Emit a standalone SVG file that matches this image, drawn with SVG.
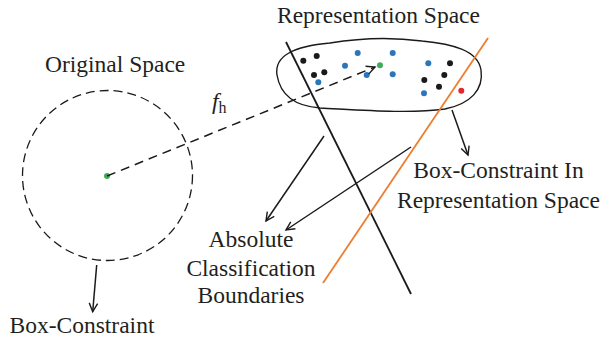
<svg xmlns="http://www.w3.org/2000/svg" width="602" height="342" viewBox="0 0 602 342">
<defs>
<marker id="ah" viewBox="-10 -6 12 12" refX="0" refY="0" markerWidth="12" markerHeight="12" markerUnits="userSpaceOnUse" orient="auto">
<path d="M-8.5,-4.2 L0,0 L-8.5,4.2" fill="none" stroke="#1a1a1a" stroke-width="1.4"/>
</marker>
</defs>
<style>
text{font-family:"Liberation Serif","Times New Roman",serif;font-size:23.5px;fill:#231f20}
.c{text-anchor:middle}
.ln{fill:none;stroke:#1a1a1a;stroke-width:1.5}
.dk{fill:#1a1a1a}.bl{fill:#2a76bc}.gr{fill:#3fae5a}.rd{fill:#e6262b}
</style>
<rect width="602" height="342" fill="#fff"/>
<g id="original-space">
<circle cx="107.5" cy="175.5" r="85" fill="none" stroke="#1a1a1a" stroke-width="1.3" stroke-dasharray="9 5"/>
<circle cx="107" cy="176" r="3" class="gr"/>
<text x="45" y="72">Original Space</text>
</g>
<g id="representation-space">
<path d="M277,75 C274,56 294,46 330,43 C360,38 392,37 422,41 C452,44 478,50 481,70 C484,90 470,104 445,109 C410,114 360,110 320,108 C293,106 280,93 277,75 Z" fill="none" stroke="#1a1a1a" stroke-width="1.4"/>
<text x="378.5" y="23" class="c">Representation Space</text>
</g>
<g id="points">
<circle cx="303.3" cy="60.7" r="3" class="dk"/>
<circle cx="316.7" cy="56" r="3" class="dk"/>
<circle cx="314" cy="75" r="3" class="dk"/>
<circle cx="324.3" cy="72.3" r="3" class="dk"/>
<circle cx="318.3" cy="82.3" r="3" class="bl"/>
<circle cx="357.7" cy="53" r="3" class="bl"/>
<circle cx="345" cy="65.7" r="3" class="bl"/>
<circle cx="366.7" cy="75" r="3" class="bl"/>
<circle cx="392.7" cy="53" r="3" class="bl"/>
<circle cx="392.7" cy="74.3" r="3" class="bl"/>
<circle cx="428.3" cy="63.3" r="3" class="bl"/>
<circle cx="424" cy="93.3" r="3" class="bl"/>
<circle cx="380" cy="65.3" r="3" class="gr"/>
<circle cx="450" cy="63.3" r="3" class="dk"/>
<circle cx="444.3" cy="75" r="3" class="dk"/>
<circle cx="424.3" cy="80" r="3" class="dk"/>
<circle cx="439" cy="86.7" r="3" class="dk"/>
<circle cx="461.3" cy="90.7" r="3" class="rd"/>
</g>
<g id="boundaries">
<line x1="286" y1="42" x2="411" y2="294" stroke="#1a1a1a" stroke-width="1.8"/>
<line x1="488" y1="38" x2="323" y2="283" stroke="#ed7d31" stroke-width="1.8"/>
</g>
<g id="label-fh">
<text x="212" y="109" font-style="italic" font-size="25">f<tspan font-size="16" font-style="normal" dy="4">h</tspan></text>
</g>
<g id="label-box-rep">
<text x="498.5" y="178" class="c">Box-Constraint In</text>
<text x="498.5" y="208" class="c">Representation Space</text>
</g>
<g id="label-absolute">
<text x="251" y="247" class="c">Absolute</text>
<text x="251" y="276" class="c">Classification</text>
<text x="251" y="303" class="c">Boundaries</text>
</g>
<g id="label-box">
<text x="9.5" y="333">Box-Constraint</text>
</g>
<g id="connectors">
<line x1="107" y1="176" x2="375" y2="67" class="ln" stroke-dasharray="9 6" marker-end="url(#ah)"/>
<line x1="324" y1="136" x2="266" y2="221" class="ln" marker-end="url(#ah)"/>
<line x1="411" y1="147" x2="286" y2="230" class="ln" marker-end="url(#ah)"/>
<line x1="452" y1="110" x2="468" y2="155" class="ln" marker-end="url(#ah)"/>
<line x1="96.7" y1="265" x2="92.7" y2="311.7" class="ln" marker-end="url(#ah)"/>
</g>
</svg>
